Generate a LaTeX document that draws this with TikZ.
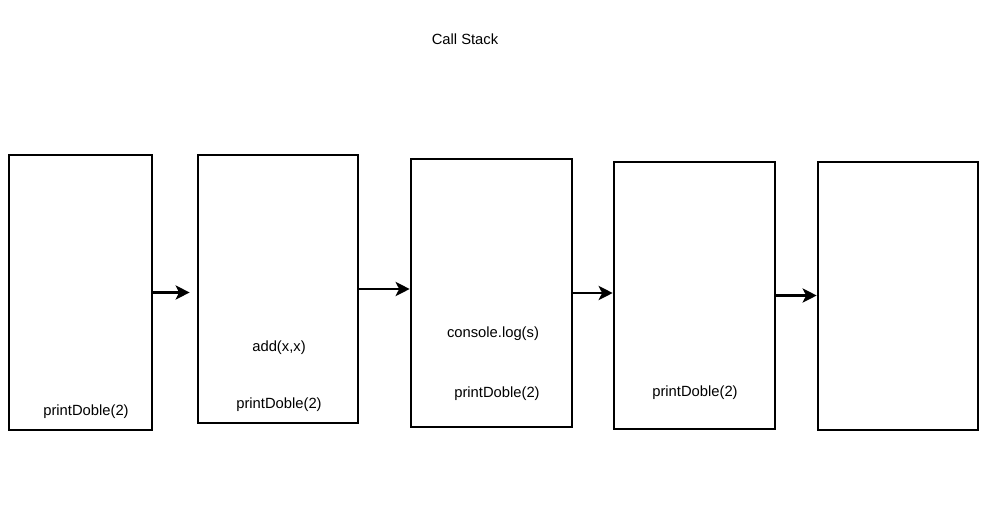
\documentclass[tikz,border=0pt]{standalone}
\usepackage{fontspec}
\setmainfont{Liberation Sans}
\usetikzlibrary{arrows.meta, positioning}
\tikzstyle{framebox} = [rectangle, draw=black, line width=1.8pt, fill=white, minimum height=6.7cm, inner sep=0pt]
\tikzstyle{calltext} = [font=\fontsize{10.5}{12}\selectfont, inner sep=1pt]
\tikzstyle{arrow} = [line width=2pt, -{Stealth[length=10pt, width=10pt, inset=2.5pt]}]

\begin{document}
\begin{tikzpicture}[x=0.025cm, y=-0.025cm]
        \useasboundingbox (0,0) rectangle (999,513);
        % Title
        \node[calltext] (title) at (465,39) {Call Stack};

        % Stack frames
        \node[framebox, minimum width=3.575cm, minimum height=6.875cm] (stackA) at (80.5,292.5) {};
        \node[framebox, minimum width=4cm] (stackB) at (278,289) {};
        \node[framebox, minimum width=4.025cm] (stackC) at (491.5,293) {};
        \node[framebox, minimum width=4.025cm, minimum height=6.675cm] (stackD) at (694.5,295.5) {};
        \node[framebox, minimum width=4cm] (stackE) at (898,296) {};

        % Frame contents
        \node[calltext] (mainA) at (86,412) {printDoble(2)};
        \node[calltext] (addB) at (279,348) {add(x,x)};
        \node[calltext] (mainB) at (279,405) {printDoble(2)};
        \node[calltext] (logC) at (493,334) {console.log(s)};
        \node[calltext] (mainC) at (497,394) {printDoble(2)};
        \node[calltext] (mainD) at (695,393) {printDoble(2)};

        % Connections
        \draw[arrow, shorten >=5pt] (stackA.east) -- (stackA.east -| stackB.west);
        \draw[arrow] (stackB.east) -- (stackB.east -| stackC.west);
        \draw[arrow] (stackC.east) -- (stackC.east -| stackD.west);
        \draw[arrow] (stackD.east) -- (stackD.east -| stackE.west);
    \end{tikzpicture}
\end{document}
